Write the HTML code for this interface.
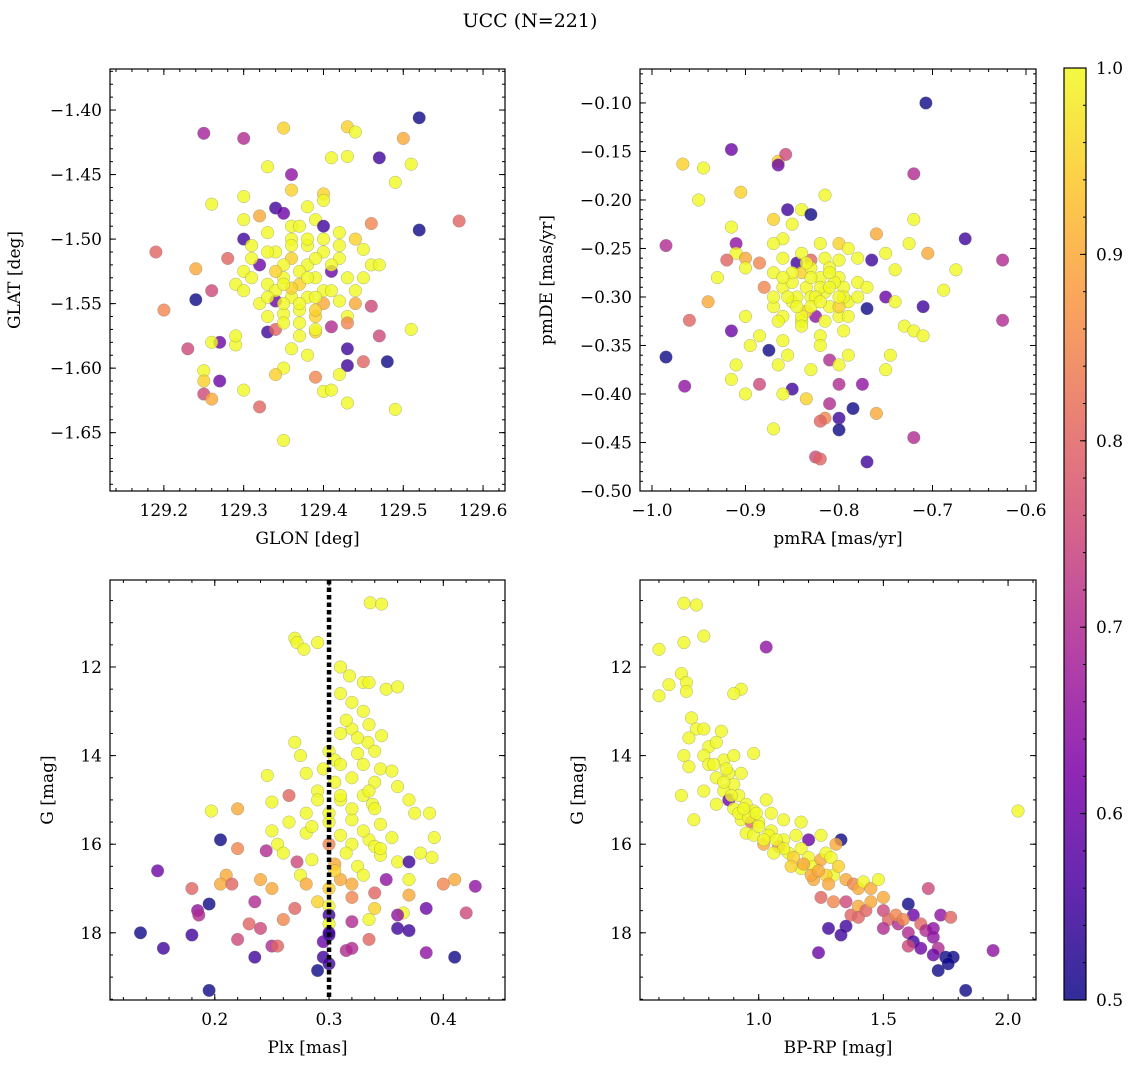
<!DOCTYPE html>
<html><head><meta charset="utf-8">
<style>
html,body{margin:0;padding:0;background:#fff;}
svg{display:block;font-family:"DejaVu Serif","Liberation Serif",serif;}
</style></head>
<body>
<svg id="fig" width="1136" height="1068" viewBox="0 0 1136 1068" xmlns="http://www.w3.org/2000/svg">
<defs>
<linearGradient id="plasma" x1="0" y1="1" x2="0" y2="0">
<stop offset="0" stop-color="#0d0887"/><stop offset="0.125" stop-color="#4c02a1"/>
<stop offset="0.25" stop-color="#7e03a8"/><stop offset="0.375" stop-color="#a82296"/>
<stop offset="0.5" stop-color="#cc4778"/><stop offset="0.625" stop-color="#e56b5d"/>
<stop offset="0.75" stop-color="#f89540"/><stop offset="0.875" stop-color="#fdc527"/>
<stop offset="1" stop-color="#f0f921"/></linearGradient>
</defs>
<text x="530" y="27" font-size="19" text-anchor="middle">UCC (N=221)</text>
</svg>
<script>
// ---- Panel 1: GLON vs GLAT
const p1Lon=[129.52,129.25,129.30,129.35,129.43,129.44,129.50,129.47,129.43,129.41,129.51,129.49,129.33,129.36,129.40,129.36,129.30,129.26,129.39,129.46,129.57,129.52,129.19,129.30,129.32,129.34,129.35,129.40,129.42,129.44,129.30,129.31,129.33,129.36,129.38,129.40,129.42,129.45,129.46,129.34,129.36,129.38,129.30,129.32,129.28,129.24,129.26,129.24,129.29,129.31,129.33,129.35,129.37,129.39,129.41,129.43,129.45,129.47,129.36,129.38,129.34,129.32,129.30,129.40,129.42,129.44,129.46,129.33,129.35,129.37,129.39,129.43,129.43,129.20,129.33,129.34,129.37,129.39,129.41,129.47,129.51,129.23,129.27,129.26,129.29,129.29,129.36,129.38,129.43,129.45,129.48,129.25,129.25,129.27,129.35,129.34,129.43,129.39,129.42,129.25,129.26,129.30,129.40,129.41,129.43,129.32,129.49,129.35,
129.35,129.37,129.39,129.41,129.34,129.36,129.38,129.40,129.35,129.37,129.39,129.33,129.36,129.38,129.40,129.42,129.35,129.37,129.39,129.34,129.36,129.31,129.44,129.38,129.40,129.37,129.35,129.39,129.41,129.33];
const p1Lat=[-1.406,-1.418,-1.422,-1.414,-1.413,-1.417,-1.422,-1.437,-1.436,-1.437,-1.442,-1.456,-1.444,-1.450,-1.465,-1.462,-1.467,-1.473,-1.485,-1.488,-1.486,-1.493,-1.510,-1.485,-1.482,-1.476,-1.48,-1.49,-1.495,-1.5,-1.5,-1.505,-1.495,-1.5,-1.505,-1.51,-1.515,-1.508,-1.52,-1.51,-1.515,-1.52,-1.525,-1.52,-1.515,-1.523,-1.54,-1.547,-1.535,-1.53,-1.535,-1.53,-1.535,-1.53,-1.525,-1.53,-1.53,-1.52,-1.545,-1.545,-1.548,-1.55,-1.54,-1.55,-1.548,-1.55,-1.552,-1.56,-1.558,-1.555,-1.56,-1.56,-1.565,-1.555,-1.572,-1.57,-1.575,-1.572,-1.568,-1.575,-1.57,-1.585,-1.58,-1.58,-1.582,-1.575,-1.585,-1.59,-1.585,-1.595,-1.595,-1.602,-1.61,-1.61,-1.600,-1.605,-1.598,-1.607,-1.605,-1.62,-1.624,-1.617,-1.618,-1.617,-1.627,-1.63,-1.632,-1.656,
-1.52,-1.525,-1.515,-1.52,-1.54,-1.538,-1.53,-1.54,-1.55,-1.55,-1.545,-1.51,-1.49,-1.5,-1.5,-1.505,-1.565,-1.565,-1.57,-1.525,-1.505,-1.515,-1.54,-1.475,-1.47,-1.49,-1.535,-1.555,-1.54,-1.545];
const p1Prob=[0.5,0.68,0.7,0.95,0.95,1,0.9,0.55,1,1,1,1,1,0.65,0.95,0.95,1,1,1,0.85,0.8,0.5,0.8,1,0.9,0.55,0.6,0.55,1,0.95,0.55,1,1,1,1,1,1,1,1,1,0.95,1,1,0.6,0.8,0.9,0.75,0.5,1,1,1,1,0.95,1,0.6,1,1,1,1,1,0.6,1,1,0.9,1,0.9,0.75,1,1,1,0.95,1,0.85,0.85,0.55,0.8,1,0.95,0.7,0.75,1,0.75,0.6,1,1,1,1,1,0.55,0.8,0.5,1,0.95,0.6,1,0.95,0.55,0.85,1,0.75,0.9,1,1,1,1,0.8,1,1,
1,1,1,1,1,0.95,1,1,1,1,1,1,1,1,1,1,1,1,1,0.95,1,1,1,1,1,1,1,0.95,1,1];
const p1XTicks=[129.2,129.3,129.4,129.5,129.6];
const p1YTicks=[-1.40,-1.45,-1.50,-1.55,-1.60,-1.65];
// ---- Panel 2: pmRA vs pmDE
const p2Ra=[-0.707,-0.915,-0.865,-0.865,-0.857,-0.967,-0.945,-0.72,-0.905,-0.815,-0.95,-0.855,-0.84,-0.83,-0.87,-0.85,-0.72,-0.915,-0.76,-0.665,-0.86,-0.87,-0.82,-0.8,-0.79,-0.985,-0.91,-0.725,-0.91,-0.9,-0.92,-0.885,-0.86,-0.845,-0.83,-0.815,-0.8,-0.78,-0.75,-0.705,-0.765,-0.625,-0.93,-0.9,-0.87,-0.84,-0.82,-0.8,-0.78,-0.74,-0.675,-0.88,-0.86,-0.835,-0.815,-0.795,-0.77,-0.688,-0.94,-0.75,-0.71,-0.87,-0.85,-0.83,-0.81,-0.79,-0.74,-0.77,-0.96,-0.9,-0.86,-0.84,-0.825,-0.8,-0.73,-0.72,-0.625,-0.915,-0.885,-0.86,-0.82,-0.795,-0.71,-0.985,-0.895,-0.875,-0.855,-0.81,-0.79,-0.745,-0.91,-0.865,-0.83,-0.8,-0.75,-0.965,-0.915,-0.885,-0.85,-0.8,-0.775,-0.9,-0.86,-0.835,-0.81,-0.785,-0.8,-0.815,-0.82,-0.76,-0.72,-0.87,-0.8,-0.825,-0.82,-0.77,
-0.84,-0.83,-0.82,-0.81,-0.85,-0.845,-0.835,-0.825,-0.805,-0.795,-0.855,-0.84,-0.83,-0.815,-0.8,-0.85,-0.83,-0.81,-0.86,-0.845,-0.82,-0.8,-0.79,-0.87,-0.835,-0.81,-0.78,-0.865,-0.84,-0.82];
const p2De=[-0.100,-0.148,-0.16,-0.164,-0.153,-0.163,-0.167,-0.173,-0.192,-0.195,-0.2,-0.21,-0.21,-0.215,-0.22,-0.225,-0.22,-0.228,-0.235,-0.24,-0.24,-0.245,-0.245,-0.245,-0.25,-0.247,-0.245,-0.245,-0.255,-0.26,-0.262,-0.265,-0.26,-0.265,-0.262,-0.26,-0.262,-0.26,-0.255,-0.255,-0.262,-0.262,-0.28,-0.27,-0.275,-0.275,-0.28,-0.28,-0.285,-0.272,-0.272,-0.29,-0.29,-0.29,-0.295,-0.29,-0.29,-0.293,-0.305,-0.3,-0.31,-0.31,-0.305,-0.3,-0.31,-0.305,-0.305,-0.312,-0.324,-0.32,-0.32,-0.325,-0.32,-0.32,-0.33,-0.335,-0.324,-0.335,-0.34,-0.345,-0.34,-0.335,-0.34,-0.362,-0.35,-0.355,-0.36,-0.365,-0.36,-0.36,-0.37,-0.37,-0.375,-0.37,-0.375,-0.392,-0.385,-0.39,-0.395,-0.39,-0.39,-0.4,-0.4,-0.405,-0.41,-0.415,-0.425,-0.425,-0.428,-0.42,-0.445,-0.436,-0.437,-0.465,-0.467,-0.47,
-0.255,-0.27,-0.29,-0.27,-0.285,-0.3,-0.315,-0.3,-0.285,-0.3,-0.3,-0.32,-0.31,-0.325,-0.31,-0.275,-0.28,-0.29,-0.28,-0.31,-0.305,-0.3,-0.32,-0.3,-0.265,-0.275,-0.3,-0.325,-0.33,-0.35];
const p2Prob=[0.5,0.6,0.95,0.6,0.75,0.95,1,0.7,0.95,1,1,0.55,1,0.5,0.95,1,1,1,0.9,0.55,1,1,1,0.95,1,0.7,0.65,1,1,0.9,0.8,0.85,1,0.55,0.8,1,1,1,1,0.9,0.55,0.7,1,1,1,0.95,1,1,1,1,1,0.85,1,1,1,1,1,1,0.9,0.6,0.55,1,1,1,1,1,1,0.5,0.8,1,1,1,0.65,1,1,1,0.7,0.6,1,1,1,1,1,0.5,1,0.5,1,0.7,1,1,1,1,1,1,1,0.65,1,0.75,0.55,0.7,0.65,1,1,0.95,0.7,0.5,0.55,0.85,0.8,0.9,0.7,1,0.5,0.75,0.8,0.55,
1,1,1,1,1,1,0.95,1,1,1,1,1,1,1,0.95,1,1,1,1,1,1,1,1,1,1,1,1,1,1,1];
const p2XTicks=[-1.0,-0.9,-0.8,-0.7,-0.6];
const p2YTicks=[-0.10,-0.15,-0.20,-0.25,-0.30,-0.35,-0.40,-0.45,-0.50];
// ---- Panel 3: Plx vs G
const p3Plx=[0.336,0.346,0.27,0.272,0.29,0.278,0.31,0.318,0.33,0.335,0.35,0.36,0.31,0.32,0.33,0.335,0.32,0.31,0.346,0.334,0.34,0.27,0.275,0.3,0.33,0.345,0.32,0.355,0.36,0.28,0.246,0.305,0.29,0.33,0.338,0.197,0.265,0.25,0.31,0.34,0.37,0.375,0.388,0.22,0.28,0.265,0.3,0.32,0.345,0.25,0.28,0.31,0.335,0.355,0.392,0.205,0.22,0.255,0.245,0.3,0.32,0.34,0.345,0.38,0.26,0.272,0.285,0.305,0.325,0.36,0.37,0.39,0.15,0.21,0.24,0.275,0.28,0.31,0.33,0.35,0.37,0.41,0.428,0.18,0.205,0.215,0.25,0.3,0.32,0.34,0.37,0.4,0.195,0.235,0.27,0.29,0.3,0.34,0.385,0.365,0.42,0.185,0.186,0.23,0.26,0.3,0.32,0.3,0.335,0.36,0.135,0.155,0.18,0.22,0.24,0.25,0.255,0.295,0.3,0.315,0.32,0.335,0.36,0.37,0.385,0.41,0.235,0.295,0.29,0.3,0.195,0.3,
0.315,0.325,0.305,0.295,0.34,0.31,0.32,0.3,0.285,0.33,0.315,0.345,0.305,0.32,0.29,0.335,0.31,0.325];
const p3G=[10.55,10.58,11.35,11.45,11.45,11.6,12.0,12.2,12.35,12.35,12.5,12.45,12.6,12.8,13.0,13.3,13.4,13.5,13.55,13.7,13.9,13.7,14.0,13.9,14.2,14.3,14.5,14.35,14.7,14.4,14.45,14.6,14.8,14.9,15.1,15.25,14.9,15.05,15.0,15.2,15.0,15.3,15.3,15.2,15.3,15.5,15.5,15.45,15.55,15.7,15.75,15.8,15.9,15.85,15.85,15.9,16.1,16.0,16.15,16.0,16.0,16.05,16.25,16.2,16.2,16.4,16.35,16.45,16.5,16.4,16.4,16.3,16.6,16.7,16.8,16.7,16.9,16.8,16.7,16.8,16.8,16.8,16.95,17.0,16.9,16.9,17.0,17.0,17.2,17.1,17.15,16.9,17.35,17.3,17.45,17.3,17.4,17.45,17.45,17.55,17.55,17.5,17.6,17.8,17.7,17.6,17.75,17.8,17.7,17.6,18.0,18.35,18.05,18.15,17.9,18.3,18.3,18.2,18.05,18.4,18.35,18.15,17.9,17.95,18.45,18.55,18.55,18.55,18.85,18.7,19.3,18.0,
13.2,13.6,14.1,14.3,14.6,14.9,15.2,15.3,15.6,15.7,16.2,16.1,16.6,16.9,15.0,14.8,14.2,13.95];
const p3Prob=[1,1,1,1,1,1,1,1,1,1,1,1,1,1,1,1,1,1,1,1,1,1,1,1,1,1,1,1,1,1,1,1,1,1,1,1,0.8,1,1,1,1,1,1,0.9,1,1,1,1,1,1,1,1,1,1,1,0.5,0.85,1,0.7,0.85,1,1,1,1,1,0.75,1,0.9,1,1,0.55,1,0.6,0.9,0.9,1,0.9,0.9,1,0.65,1,0.9,0.65,0.8,0.9,0.8,0.9,0.95,0.85,0.8,0.9,0.85,0.5,0.7,0.8,0.95,1,0.95,0.6,1,0.75,0.65,0.7,0.8,0.85,0.55,0.7,1,1,0.65,0.5,0.55,0.55,0.75,0.75,0.7,0.8,0.6,0.55,0.7,0.7,0.8,0.55,0.55,0.65,0.5,0.55,0.55,0.5,0.55,0.5,0.55,
1,1,1,1,1,1,1,1,1,1,1,1,0.95,0.9,1,1,1,1];
const p3XTicks=[0.2,0.3,0.4];
const p3YTicks=[12,14,16,18];
const p3PlxRef=[0.3];
// ---- Panel 4: BP-RP vs G
const p4Col=[0.6,0.6,0.64,0.7,0.75,0.78,0.7,0.69,0.71,0.71,1.03,0.93,0.9,0.73,0.75,0.78,0.72,0.85,0.8,0.83,0.7,0.72,0.78,0.8,0.86,0.9,0.98,0.83,0.88,0.93,0.9,0.86,0.78,0.69,0.74,0.83,0.88,0.92,0.95,0.9,0.98,1.03,1.05,0.93,0.97,1.0,1.1,1.17,0.95,0.98,1.05,1.1,1.15,1.2,1.25,1.33,1.02,1.08,1.12,1.17,1.2,1.22,1.25,1.17,1.27,1.29,1.3,1.32,1.27,1.22,1.31,1.35,1.38,1.4,1.42,1.45,1.48,1.5,1.25,1.3,1.35,1.37,1.4,1.43,1.45,1.5,1.52,1.56,1.6,1.62,1.55,1.58,1.65,1.67,1.7,1.73,1.77,1.68,1.4,1.35,1.28,1.33,1.5,1.6,1.62,1.65,1.7,1.72,1.75,1.78,1.6,1.24,1.72,1.76,1.94,1.83,2.04,1.7,
0.86,0.89,0.92,0.96,1.0,1.04,1.07,1.1,1.14,1.18,0.94,0.99,1.02,1.06,1.13,1.21,1.24,1.28,0.82,0.87];
const p4G=[11.6,12.65,12.4,10.56,10.6,11.3,11.45,12.15,12.35,12.55,11.55,12.5,12.6,13.15,13.4,13.4,13.6,13.45,13.8,13.7,14.0,14.25,14.0,14.2,14.1,14.0,13.95,14.5,14.4,14.4,14.65,14.8,14.8,14.9,15.45,15.1,15.0,14.9,15.1,15.2,15.25,15.0,15.3,15.45,15.5,15.5,15.45,15.5,15.75,15.8,15.7,15.9,15.8,15.9,15.8,15.9,16.0,16.05,16.2,16.1,16.3,16.5,16.35,16.55,16.2,16.3,16.7,16.5,16.7,16.8,16.0,16.8,16.9,17.0,16.85,17.0,16.8,17.2,17.2,17.3,17.3,17.6,17.4,17.5,17.3,17.5,17.7,17.8,17.35,17.6,17.6,17.7,17.8,17.95,17.9,17.6,17.65,17.0,17.65,17.85,17.9,18.05,17.9,18.0,18.2,18.35,18.1,18.35,18.55,18.55,18.3,18.45,18.85,18.7,18.4,19.3,15.25,18.5,
14.6,14.9,15.3,15.4,15.6,15.8,15.9,16.1,16.3,16.45,15.2,15.3,15.9,16.2,16.5,16.7,16.6,16.9,14.2,14.3];
const p4Prob=[1,1,1,1,1,1,1,1,1,1,0.65,1,1,1,1,1,1,1,1,1,1,1,1,1,1,1,1,1,1,1,1,1,1,1,1,1,0.6,1,1,1,1,1,1,1,0.8,1,1,1,1,1,1,1,1,0.6,1,0.5,0.9,0.85,1,1,1,1,0.9,1,1,1,1,0.95,0.95,0.9,0.9,0.9,0.85,0.9,1,0.9,1,0.9,0.8,0.85,0.75,0.8,0.9,0.8,0.9,0.75,0.8,0.7,0.5,0.6,0.85,0.85,0.8,0.7,0.65,0.65,0.8,0.75,0.8,0.55,0.55,0.55,0.7,0.7,0.55,0.6,0.65,0.7,0.5,0.5,0.75,0.6,0.5,0.5,0.65,0.5,1,0.6,
1,1,1,1,1,1,1,1,0.95,0.9,1,1,1,1,0.95,0.9,0.9,0.9,1,1];
const p4XTicks=[1.0,1.5,2.0];
const p4YTicks=[12,14,16,18];
const cbTicks=[0.5,0.6,0.7,0.8,0.9,1.0];

const NS='http://www.w3.org/2000/svg';
const svg=document.getElementById('fig');
function mk(tag,attrs,parent){const e=document.createElementNS(NS,tag);for(const k in attrs)e.setAttribute(k,attrs[k]);(parent||svg).appendChild(e);return e;}
const stops=[[0,[13,8,135]],[0.125,[76,2,161]],[0.25,[126,3,168]],[0.375,[168,34,150]],[0.5,[204,71,120]],[0.625,[229,107,93]],[0.75,[248,149,64]],[0.875,[253,197,39]],[1,[240,249,33]]];
function plasma(p){let t=Math.max(0,Math.min(1,(p-0.5)/0.5));for(let i=1;i<stops.length;i++){if(t<=stops[i][0]){const a=stops[i-1],b=stops[i];const f=(t-a[0])/(b[0]-a[0]);const c=a[1].map((v,j)=>Math.round(v+(b[1][j]-v)*f));return 'rgb('+c.join(',')+')';}}return 'rgb(240,249,33)';}
function lin(d0,d1,r0,r1){return v=>r0+(v-d0)/(d1-d0)*(r1-r0);}
function fmt(v,dec){return (v<0?'\u2212':'')+Math.abs(v).toFixed(dec);}

function panel(o){
  const g=mk('g',{});
  
  
  const sx=lin(o.xd[0],o.xd[1],o.L,o.R), sy=lin(o.yd[0],o.yd[1],o.T,o.B);
  const pts=mk('g',{},g);
  
  
  for(let i=0;i<o.xs.length;i++){
    const c=mk('circle',{cx:sx(o.xs[i]).toFixed(1),cy:sy(o.ys[i]).toFixed(1),r:6.3,fill:plasma(o.ps[i]),'fill-opacity':0.8,stroke:'#777','stroke-width':0.4,'stroke-opacity':0.7},pts);
    
    
  }
  if(o.vline){o.vline.forEach(v=>{const l=mk('line',{x1:sx(v),x2:sx(v),y1:o.T,y2:o.B,stroke:'#000','stroke-width':4.5,'stroke-dasharray':'4.5 3'},g);
    
    });}
  const tk=mk('g',{stroke:'#000','stroke-width':1},g);
  const xr=[Math.min(...o.xd),Math.max(...o.xd)], yr=[Math.min(...o.yd),Math.max(...o.yd)];
  for(let v=Math.ceil(xr[0]/o.xm-1e-6)*o.xm;v<=xr[1]+1e-9;v+=o.xm){const x=sx(v);mk('line',{x1:x,x2:x,y1:o.B,y2:o.B-3},tk);mk('line',{x1:x,x2:x,y1:o.T,y2:o.T+3},tk);}
  for(let v=Math.ceil(yr[0]/o.ym-1e-6)*o.ym;v<=yr[1]+1e-9;v+=o.ym){const y=sy(v);mk('line',{x1:o.L,x2:o.L+3,y1:y,y2:y},tk);mk('line',{x1:o.R,x2:o.R-3,y1:y,y2:y},tk);}
  o.xt.forEach(v=>{const x=sx(v);mk('line',{x1:x,x2:x,y1:o.B,y2:o.B-6},tk);mk('line',{x1:x,x2:x,y1:o.T,y2:o.T+6},tk);
    const t=mk('text',{x:x,y:o.B+25,'font-size':17,'text-anchor':'middle'},g);t.textContent=fmt(v,o.xdec);
    
    });
  o.yt.forEach(v=>{const y=sy(v);mk('line',{x1:o.L,x2:o.L+6,y1:y,y2:y},tk);mk('line',{x1:o.R,x2:o.R-6,y1:y,y2:y},tk);
    const t=mk('text',{x:o.L-8,y:y+6,'font-size':17,'text-anchor':'end'},g);t.textContent=fmt(v,o.ydec);
    
    });
  const fr=mk('rect',{x:o.L,y:o.T,width:o.R-o.L,height:o.B-o.T,fill:'none',stroke:'#000','stroke-width':1.2},g);
  
  
  const xl=mk('text',{x:(o.L+o.R)/2,y:o.B+53,'font-size':17,'text-anchor':'middle'},g);xl.textContent=o.xlab;
  
  
  const yx=o.L-o.ylo, yy=(o.T+o.B)/2;
  const yl=mk('text',{x:yx,y:yy,'font-size':17,'text-anchor':'middle',transform:'rotate(-90 '+yx+' '+yy+')'},g);yl.textContent=o.ylab;
  
  
}
panel({name:'glon-glat-panel',L:110,R:505,T:69,B:491,xd:[129.1325,129.6275],yd:[-1.3682,-1.6952],xs:p1Lon,ys:p1Lat,ps:p1Prob,xt:p1XTicks,yt:p1YTicks,xm:0.02,ym:0.01,xdec:1,ydec:2,xlab:'GLON [deg]',ylab:'GLAT [deg]',ylo:90});
panel({name:'pm-panel',L:640,R:1036,T:69,B:491,xd:[-1.0128,-0.5893],yd:[-0.065,-0.5],xs:p2Ra,ys:p2De,ps:p2Prob,xt:p2XTicks,yt:p2YTicks,xm:0.02,ym:0.01,xdec:1,ydec:2,xlab:'pmRA [mas/yr]',ylab:'pmDE [mas/yr]',ylo:88});
panel({name:'plx-g-panel',L:110,R:505,T:580,B:1000,xd:[0.1083,0.454],yd:[10.036,19.517],xs:p3Plx,ys:p3G,ps:p3Prob,xt:p3XTicks,yt:p3YTicks,xm:0.02,ym:0.5,xdec:1,ydec:0,xlab:'Plx [mas]',ylab:'G [mag]',ylo:57,vline:p3PlxRef});
panel({name:'cmd-panel',L:640,R:1036,T:580,B:1000,xd:[0.524,2.112],yd:[10.036,19.517],xs:p4Col,ys:p4G,ps:p4Prob,xt:p4XTicks,yt:p4YTicks,xm:0.1,ym:0.5,xdec:1,ydec:0,xlab:'BP-RP [mag]',ylab:'G [mag]',ylo:57});

// colorbar
const cb=mk('g',{});


const cy=lin(0.5,1.0,1000,68);
mk('rect',{x:1064,y:68,width:22,height:932,fill:'url(#plasma)','fill-opacity':0.85},cb);
mk('rect',{x:1064,y:68,width:22,height:932,fill:'none',stroke:'#000','stroke-width':1.2},cb);
for(let v=0.5;v<=1.0001;v+=0.02){mk('line',{x1:1086,x2:1083,y1:cy(v),y2:cy(v),stroke:'#000'},cb);}
cbTicks.forEach(v=>{mk('line',{x1:1086,x2:1080,y1:cy(v),y2:cy(v),stroke:'#000'},cb);
  const t=mk('text',{x:1096,y:cy(v)+6,'font-size':17},cb);t.textContent=v.toFixed(1);
  
  });
</script>
</body></html>
